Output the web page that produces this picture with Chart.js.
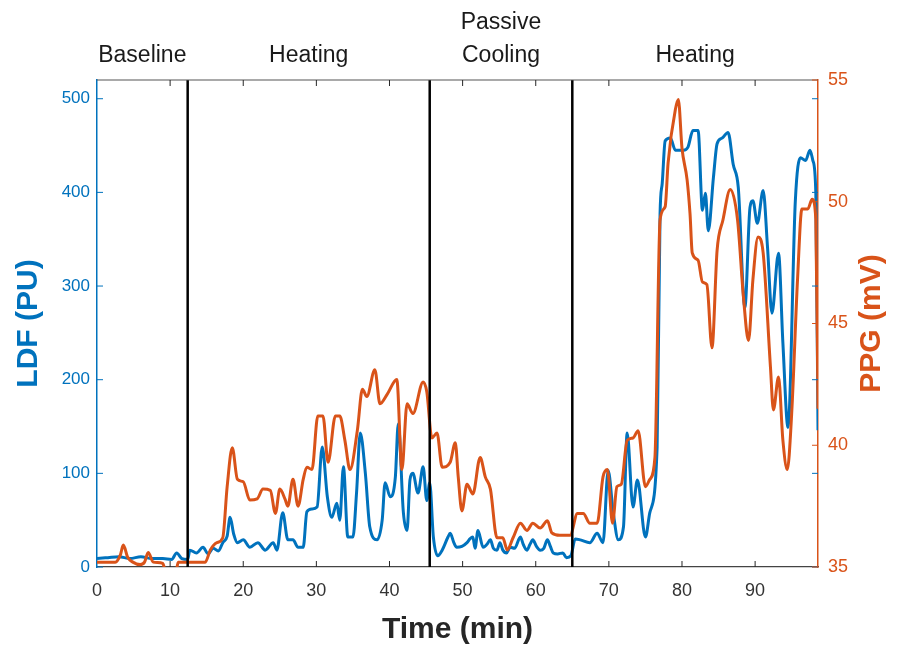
<!DOCTYPE html>
<html>
<head>
<meta charset="utf-8">
<script src="https://cdn.jsdelivr.net/npm/chart.js@4"></script>
<style>
  html, body { margin: 0; padding: 0; background: #fff; }
</style>
</head>
<body>
<canvas id="ldfPpg" width="898" height="648"></canvas>
<script>
// LDF trace (PU) against time (min)
const ldfTime = [0, 1.5, 3, 4.5, 6, 7.5, 9, 10.2, 10.9, 11.6, 12.4,
  12.7, 13.6, 14.5, 15.2, 15.9, 16.6, 17.2, 17.8, 18.2, 18.7, 19.2, 20.0, 20.9, 22.0, 23.0, 24.1, 24.6,
  25.4, 26.1, 26.8, 27.5, 28.2, 28.7, 29.4, 30.1, 30.8, 31.5, 32.1, 32.8, 33.2, 33.7, 34.3, 35.0, 35.5,
  36.0, 36.7, 37.3, 38.3, 39.0, 39.4, 40.1, 40.8, 41.2, 41.9, 42.4, 42.8, 43.2, 43.9, 44.6, 45.1, 45.5,
  46.0, 46.6, 47.2, 48.0, 48.3, 48.8, 49.2, 49.9, 50.6, 51.0, 51.4, 51.7, 52.1, 52.8, 53.3, 53.8, 54.2,
  54.7, 55.1, 55.5, 56.0, 56.5, 57.1, 57.9, 58.3, 58.8, 59.2, 59.6, 60.1, 60.6, 61.1, 61.6, 62.0, 62.4,
  63.0, 63.7, 64.2, 64.8,
  65.4, 66.1, 67.4, 68.4, 69.2, 69.9, 70.6, 71.3, 72.0, 72.5, 73.3, 73.9, 75.0,
  75.6, 76.6, 77.0, 77.3, 77.7, 78.4, 79.1, 80.2, 80.8, 81.5, 82.2, 82.8, 83.2, 83.6, 84.3, 84.8, 85.5,
  86.3, 87.0, 87.7, 88.6, 89.3, 89.7, 90.3, 91.1, 91.7, 92.3, 93.2, 93.8, 94.5, 95.5, 96.2, 96.9, 97.5,
  97.9, 98.3, 98.6];
const ldfValues = [9, 10, 11, 9, 11, 9, 9, 8, 15, 9, 8,
  18, 15, 21, 14, 20, 17, 26, 33, 53, 35, 26, 29, 21, 26, 18, 26, 18,
  58, 29, 29, 21, 21, 59, 62, 64, 128, 75, 53, 68, 50, 107, 32, 32, 80,
  143, 100, 43, 29, 50, 90, 75, 96, 153, 58, 39, 93, 100, 79, 107, 71, 90,
  32, 12, 18, 32, 36, 26, 21, 22, 26, 30, 32, 20, 39, 21, 24, 29, 20,
  18, 26, 18, 15, 21, 20, 32, 24, 18, 24, 29, 22, 18, 20, 29, 22, 15,
  14, 15, 10, 12,
  30, 29, 26, 36, 26, 103, 58, 29, 43, 143, 64, 93, 32,
  58, 128, 377, 410, 455, 458, 445, 445, 448, 466, 466, 381, 399, 359, 416, 452, 458,
  464, 430, 405, 277, 384, 391, 367, 402, 341, 271, 335, 239, 149, 391, 437, 434, 445,
  434, 400, 146];

// PPG trace (mV) against time (min)
const ppgTime = [0, 2.5, 3.2, 3.6, 4.2, 4.9, 5.9, 6.5, 7.0, 7.7, 9.0, 9.4, 10.8, 11.1, 14.8, 15.5,
  16.4, 17.2, 17.8, 18.5, 19.2, 20.0, 20.9, 21.9, 22.7, 23.7, 24.4, 25.0, 25.7, 26.1, 26.8, 27.5,
  28.2, 28.7, 29.4, 30.2, 30.9, 31.6, 32.6, 33.2, 33.9, 34.6, 35.6, 36.3, 36.9, 38.0, 38.7, 39.7,
  41.0, 41.7, 42.4, 43.2, 44.6, 45.1, 45.8, 46.5, 47.2, 48.3, 49.0, 49.4, 49.9, 50.6, 51.4, 52.4,
  53.1, 53.8, 54.7, 55.5, 56.1, 56.9, 57.9, 58.8, 59.6, 60.6, 61.6, 62.2, 63.3, 64.7, 65.7, 66.5,
  67.4, 68.4, 69.2, 69.8, 70.5, 71.1, 71.7, 72.5, 73.3, 74.0, 75.0, 75.6, 76.3, 77.0, 77.7, 78.1,
  79.1, 79.5, 80.0, 80.7, 81.1, 81.4, 82.2, 82.8, 83.4, 84.1, 84.8, 85.6, 86.6, 87.6, 88.4, 89.1,
  89.7, 90.4, 91.1, 92.1, 92.5, 93.2, 93.8, 94.4, 95.0, 95.8, 96.4, 97.2, 97.8, 98.3, 98.6];
const ppgValues = [35.2, 35.2, 35.5, 35.9, 35.4, 35.2, 35.1, 35.2, 35.6, 35.2, 35.15, 34.8, 34.8, 35.2, 35.2, 35.7,
  36.0, 36.2, 38.3, 39.9, 38.6, 38.5, 37.75, 37.8, 38.2, 38.15, 37.2, 38.2, 37.8, 37.5, 38.6, 37.5,
  38.6, 39.1, 39.0, 41.2, 41.2, 39.3, 41.2, 41.2, 40.2, 39.0, 40.6, 42.3, 42.0, 43.1, 41.7, 42.1,
  42.7, 39.0, 41.7, 41.3, 42.6, 42.2, 40.3, 40.5, 39.1, 39.3, 40.1, 38.7, 37.3, 38.4, 38.0, 39.5,
  38.7, 38.2, 36.2, 36.2, 35.7, 36.2, 36.8, 36.5, 36.8, 36.6, 36.9, 36.4, 36.3, 36.3, 37.2, 37.2,
  36.8, 36.8, 38.7, 39.0, 36.8, 38.3, 38.4, 40.2, 40.3, 40.6, 38.3, 38.6, 39.5, 49.25, 49.8, 51.6,
  53.8, 54.2, 52.2, 50.9, 49.5, 47.9, 47.6, 46.7, 46.6, 44.0, 48.0, 49.25, 50.5, 49.25, 46.1, 44.3,
  46.8, 48.55, 47.9, 43.2, 41.45, 42.8, 40.2, 39.0, 41.3, 46.8, 49.7, 49.7, 50.1, 49.3, 41.5];

// protocol phases
const phaseBounds = [12.4, 45.5, 65];
const phaseStarts = [0, 12.4, 45.5, 65];
const phaseEnds = [12.4, 45.5, 65, 98.6];
const phaseLabels = [['Baseline'], ['Heating'], ['Passive', 'Cooling'], ['Heating']];

const BLUE = '#0072BD';
const ORANGE = '#D95319';
const GREY = '#262626';

Chart.defaults.font.family = '"Liberation Sans", Arial, sans-serif';

function pairs(xs, ys) {
  return xs.map((t, i) => ({ x: t, y: ys[i] }));
}

const framePlugin = {
  id: 'frame',
  afterDatasetsDraw(chart) {
    const { ctx, chartArea: a, scales } = chart;
    const x = scales.x, yL = scales.yL, yR = scales.yR;
    const seg = (x1, y1, x2, y2) => { ctx.beginPath(); ctx.moveTo(x1, y1); ctx.lineTo(x2, y2); ctx.stroke(); };
    ctx.save();

    // phase separators
    ctx.strokeStyle = '#000';
    ctx.lineWidth = 2.5;
    phaseBounds.forEach(t => {
      const px = x.getPixelForValue(t);
      seg(px, a.top, px, a.bottom);
    });

    // box top
    ctx.strokeStyle = '#555';
    ctx.lineWidth = 1.2;
    seg(a.left, a.top, a.right, a.top);

    // inward tick marks
    ctx.lineWidth = 1;
    ctx.strokeStyle = GREY;
    x.ticks.forEach(tk => {
      const px = x.getPixelForValue(tk.value);
      if (px <= a.left + 1) return;
      seg(px, a.bottom, px, a.bottom - 6);
      seg(px, a.top, px, a.top + 6);
    });
    ctx.strokeStyle = BLUE;
    yL.ticks.forEach(tk => {
      const py = yL.getPixelForValue(tk.value);
      seg(a.left, py, a.left + 6, py);
      seg(a.right, py, a.right - 6, py);
    });
    ctx.strokeStyle = ORANGE;
    yR.ticks.forEach(tk => {
      const py = yR.getPixelForValue(tk.value);
      seg(a.right, py, a.right - 6, py);
    });

    // phase names above the plot
    ctx.fillStyle = '#1a1a1a';
    ctx.font = '23px "Liberation Sans", Arial, sans-serif';
    ctx.textAlign = 'center';
    ctx.textBaseline = 'middle';
    phaseLabels.forEach((lines, i) => {
      const cx = x.getPixelForValue((phaseStarts[i] + phaseEnds[i]) / 2);
      lines.forEach((s, j) => {
        ctx.fillText(s, cx, 56 - (lines.length - 1 - j) * 33);
      });
    });

    // right axis title, reading bottom to top
    ctx.fillStyle = ORANGE;
    ctx.font = 'bold 30px "Liberation Sans", Arial, sans-serif';
    ctx.translate(872, (a.top + a.bottom) / 2);
    ctx.rotate(-Math.PI / 2);
    ctx.fillText('PPG (mV)', 0, 0);
    ctx.restore();
  }
};

new Chart(document.getElementById('ldfPpg'), {
  type: 'line',
  data: {
    datasets: [
      {
        label: 'PPG',
        data: pairs(ppgTime, ppgValues),
        yAxisID: 'yR',
        borderColor: ORANGE,
        borderWidth: 3,
        pointRadius: 0,
        cubicInterpolationMode: 'monotone'
      },
      {
        label: 'LDF',
        data: pairs(ldfTime, ldfValues),
        yAxisID: 'yL',
        borderColor: BLUE,
        borderWidth: 3,
        pointRadius: 0,
        cubicInterpolationMode: 'monotone'
      }
    ]
  },
  options: {
    responsive: false,
    animation: false,
    layout: { padding: { top: 80, left: 0, right: 0, bottom: 0 } },
    plugins: { legend: { display: false }, tooltip: { enabled: false } },
    scales: {
      x: {
        type: 'linear',
        min: 0,
        max: 98.6,
        grid: { display: false, drawTicks: false },
        border: { color: '#444', width: 1.2 },
        ticks: { stepSize: 10, includeBounds: false, color: '#333', padding: 13, font: { size: 18 } },
        title: { display: true, text: 'Time (min)', color: GREY, font: { size: 30, weight: 'bold' }, padding: { top: 0, bottom: 0 } },
        afterFit(scale) { scale.height = 81; }
      },
      yL: {
        type: 'linear',
        position: 'left',
        min: 0,
        max: 520,
        grid: { display: false, drawTicks: false },
        border: { color: BLUE, width: 1.5 },
        ticks: { stepSize: 100, includeBounds: false, color: BLUE, padding: 7, font: { size: 17 } },
        title: { display: true, text: 'LDF (PU)', color: BLUE, font: { size: 30, weight: 'bold' }, padding: { top: 11, bottom: 0 } },
        afterFit(scale) { scale.width = 97; }
      },
      yR: {
        type: 'linear',
        position: 'right',
        min: 35,
        max: 55,
        grid: { display: false, drawTicks: false },
        border: { color: ORANGE, width: 1.5 },
        ticks: { stepSize: 5, includeBounds: false, color: ORANGE, padding: 10, font: { size: 18 } },
        afterFit(scale) { scale.width = 80; }
      }
    }
  },
  plugins: [framePlugin]
});
</script>
</body>
</html>
